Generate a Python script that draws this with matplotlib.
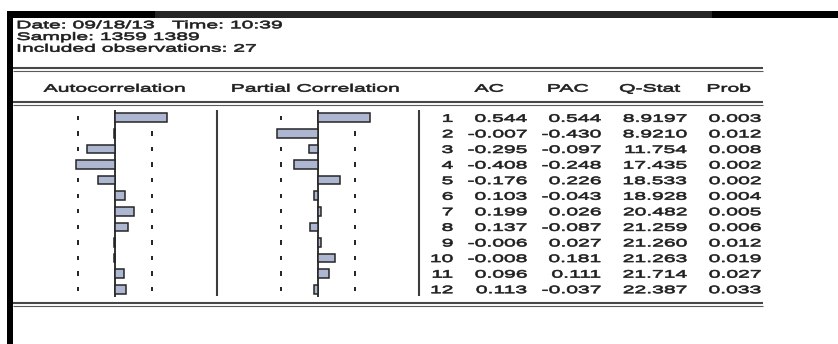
import numpy as np
import matplotlib
matplotlib.use("Agg")
import matplotlib.pyplot as plt
from matplotlib.patches import Rectangle
from matplotlib.patheffects import AbstractPathEffect
from matplotlib.transforms import Affine2D, blended_transform_factory, offset_copy

# Correlogram of the series (EViews output)
lags = list(range(1, 13))
ac = [0.544, -0.007, -0.295, -0.408, -0.176, 0.103, 0.199, 0.137, -0.006, -0.008, 0.096, 0.113]
pac = [0.544, -0.430, -0.097, -0.248, 0.226, -0.043, 0.026, -0.087, 0.027, 0.181, 0.111, -0.037]
q_stat = [8.9197, 8.9210, 11.754, 17.435, 18.533, 18.928, 20.482, 21.259, 21.260, 21.263, 21.714, 22.387]
prob = [0.003, 0.012, 0.008, 0.002, 0.002, 0.004, 0.005, 0.006, 0.012, 0.019, 0.027, 0.033]
n_obs = 27

header_lines = ["Date: 09/18/13   Time: 10:39", "Sample: 1359 1389",
                "Included observations: %d" % n_obs]
panel_titles = ["Autocorrelation", "Partial Correlation"]
columns = ["AC", "PAC", "Q-Stat", "Prob"]

W, H = 838, 344
FONT = "Liberation Sans"
FS = 7.8
TXT = "#1e1e1e"
BAR = "#aeb7d1"
EDGE = "#262626"


class Stretch(AbstractPathEffect):
    """Widen text glyphs horizontally (anchored like the alignment) and thicken them a bit."""

    def __init__(self, sx, ha="left", lw=0.45):
        super().__init__()
        self.sx = sx
        self.ha = ha
        self.lw = lw

    def draw_path(self, renderer, gc, tpath, affine, rgbFace=None):
        ext = tpath.get_extents()
        if self.ha == "right":
            x0 = ext.x1
        elif self.ha == "center":
            x0 = (ext.x0 + ext.x1) / 2
        else:
            x0 = ext.x0
        t = Affine2D().translate(-x0, 0).scale(self.sx, 1).translate(x0, 0) + affine
        gc0 = renderer.new_gc()
        gc0.copy_properties(gc)
        gc0.set_linewidth(self.lw)
        gc0.set_foreground(rgbFace)
        renderer.draw_path(gc0, tpath, t, rgbFace)
        gc0.restore()


def put(ax, x, y, s, ha="left", transform=None):
    ax.text(x, y, s, ha=ha, va="baseline", fontsize=FS, family=FONT, color=TXT,
            transform=transform if transform is not None else ax.transData,
            path_effects=[Stretch(1.95, ha)])


fig = plt.figure(figsize=(W / 100, H / 100), dpi=100)
fig.patch.set_facecolor("white")

bg = fig.add_axes([0, 0, 1, 1])
bg.set_xlim(0, W)
bg.set_ylim(H, 0)
bg.axis("off")

# window frame
bg.add_patch(Rectangle((7, 10.5), W - 7, 7, color="black", lw=0))
bg.add_patch(Rectangle((155, 10.5), 557, 7, color="#262626", lw=0))
bg.add_patch(Rectangle((7, 10.5), 6, H, color="black", lw=0))

# header block
for i, line in enumerate(header_lines):
    put(bg, 17, 28.3 + i * 11.7, line)

# double rules
for y in (68, 102, 302.5):
    bg.plot([13, 763], [y, y], color="#474747", lw=1.5, solid_capstyle="butt")
    bg.plot([13, 763], [y + 3.3, y + 3.3], color="#5a5a5a", lw=0.8, solid_capstyle="butt")

put(bg, 115, 91.7, panel_titles[0], ha="center")
put(bg, 316, 91.7, panel_titles[1], ha="center")
for x, name in zip([489, 568, 650, 729], columns):
    put(bg, x, 91.7, name, ha="center")

# bar panels
bound = 2 / np.sqrt(n_obs)
top, bottom = 110, 297
panels = []
for left, width, vals in [(13, 204, ac), (217, 202, pac)]:
    ax = fig.add_axes([left / W, (H - bottom) / H, width / W, (bottom - top) / H])
    half = width / 2 / 96.5
    ax.set_xlim(-half, half)
    ax.set_ylim(lags[-1] + 0.5, lags[0] - 0.5)
    ax.axis("off")
    ax.patch.set_alpha(0)
    ax.vlines([-bound] * len(lags), np.array(lags) - 0.14, np.array(lags) + 0.14,
              color="#222222", lw=1.4, zorder=1)
    ax.vlines([bound] * len(lags), np.array(lags) - 0.14, np.array(lags) + 0.14,
              color="#222222", lw=1.4, zorder=1)
    ax.axvline(0, color="#333333", lw=1.4, zorder=2)
    ax.barh(lags, vals, height=0.56, left=0, color=BAR, edgecolor=EDGE, lw=1.1, zorder=3)
    panels.append(ax)

# panel dividers
for x in (217, 419):
    bg.plot([x, x], [top, bottom - 1], color="#3c3c3c", lw=1.5, solid_capstyle="butt")

# numeric table, one row per lag
row_tr = offset_copy(blended_transform_factory(bg.transData, panels[0].transData),
                     fig=fig, x=0, y=-4, units="dots")
for k, a, p, q, pr in zip(lags, ac, pac, q_stat, prob):
    qs = "%.4f" % q if q < 10 else "%.3f" % q
    put(bg, 453, k, str(k), ha="right", transform=row_tr)
    put(bg, 527, k, "%.3f" % a, ha="right", transform=row_tr)
    put(bg, 601, k, "%.3f" % p, ha="right", transform=row_tr)
    put(bg, 687, k, qs, ha="right", transform=row_tr)
    put(bg, 761, k, "%.3f" % pr, ha="right", transform=row_tr)

fig.savefig("out.png", dpi=100, facecolor="white")
